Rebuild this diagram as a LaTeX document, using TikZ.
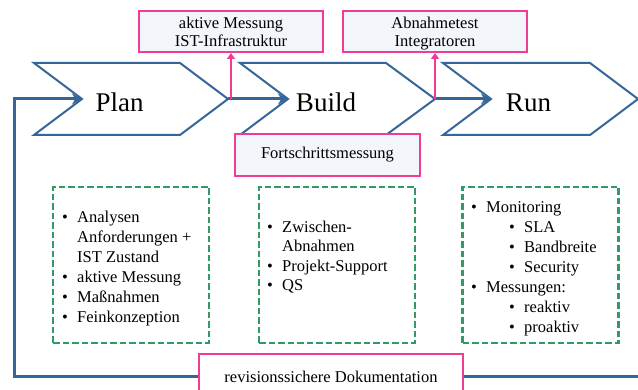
\documentclass[tikz,border=0pt]{standalone}
\usepackage{fontspec}
\setmainfont{Liberation Serif}
\usetikzlibrary{arrows.meta}
\definecolor{chevblue}{RGB}{52,102,153}
\definecolor{markpink}{RGB}{240,60,150}
\definecolor{listgreen}{RGB}{51,153,102}
\definecolor{boxfill}{RGB}{242,245,250}
\newcommand{\bul}{\makebox[15pt][l]{\textbullet}}
\tikzset{
  chevron/.style={draw=chevblue, line width=2pt, line join=miter},
  flow/.style={draw=chevblue, line width=3pt, -{Stealth[length=10pt,width=11pt]}},
  flowline/.style={draw=chevblue, line width=3pt},
  markbox/.style={draw=markpink, fill=boxfill, line width=2pt, align=center, inner sep=0pt, font=\fontsize{16.5}{18}\selectfont},
  twoline/.style={minimum width=184pt, minimum height=41pt, text height=35pt, text depth=4pt},
  markarrow/.style={draw=markpink, line width=2.5pt, -{Triangle[length=6pt,width=8pt]}},
  listbox/.style={draw=listgreen, line width=2.5pt, dash pattern=on 6.5pt off 3pt, minimum width=156pt, minimum height=156pt},
  listitem/.style={anchor=base west, inner sep=0pt, font=\fontsize{16.5}{20}\selectfont},
  phaselabel/.style={anchor=base, inner sep=0pt, font=\fontsize{27}{30}\selectfont}
}
\begin{document}
\begin{tikzpicture}[x=1pt,y=-1pt]
\useasboundingbox (0,0) rectangle (638,390);
% chevrons
\draw[chevron] (34,63) -- (180,63) -- (228,99) coordinate (plantip) -- (180,135) -- (34,135) -- (82,99) coordinate (plannotch) -- cycle;
\draw[chevron] (240,63) -- (386,63) -- (435,99) coordinate (buildtip) -- (386,135) -- (240,135) -- (288,99) coordinate (buildnotch) -- cycle;
\draw[chevron] (443,63) -- (590,63) -- (638,99) coordinate (runtip) -- (590,135) -- (443,135) -- (491,99) coordinate (runnotch) -- cycle;
\node[phaselabel] (plan) at (119.5,112) {Plan};
\node[phaselabel] (build) at (326,112) {Build};
\node[phaselabel] (run) at (528.5,112) {Run};
% boxes on top
\node[markbox, twoline] (messung) at (231,31.5) {aktive Messung\\IST-Infrastruktur};
\node[markbox, twoline] (abnahme) at (435,31.5) {Abnahmetest\\Integratoren};
\node[markbox, minimum width=185pt, minimum height=42pt] (fortschritt) at (327.5,155) {Fortschrittsmessung};
\node[markbox, fill=white, minimum width=264pt, minimum height=46pt] (doku) at (331,377) {revisionssichere Dokumentation};
% flow
\coordinate (loopcorner) at (14,99);
\coordinate (rightend) at (640,377);
\draw[flow] (plantip) -- (buildnotch);
\draw[flow] (buildtip) -- (runnotch);
\draw[flow] (doku.west) -| (loopcorner) -- (plannotch);
\draw[flowline] (doku.east) -- (rightend);
\draw[markarrow] (messung.south |- plantip) -- (messung.south);
\draw[markarrow] (abnahme.south |- buildtip) -- (abnahme.south);
% lists
\node[listbox] (planlist) at (131,265) {};
\node[listbox] (buildlist) at (337,265) {};
\node[listbox] (runlist) at (540.5,265) {};
\node[listitem] (plan1) at (62,223) {\bul Analysen};
\node[listitem] (plan2) at (77,243) {Anforderungen +};
\node[listitem] (plan3) at (77,263) {IST Zustand};
\node[listitem] (plan4) at (62,283) {\bul aktive Messung};
\node[listitem] (plan5) at (62,303) {\bul Maßnahmen};
\node[listitem] (plan6) at (62,323) {\bul Feinkonzeption};
\node[listitem] (build1) at (267,232.5) {\bul Zwischen-};
\node[listitem] (build2) at (282,252) {Abnahmen};
\node[listitem] (build3) at (267,271.5) {\bul Projekt-Support};
\node[listitem] (build4) at (267,291) {\bul QS};
\node[listitem] (run1) at (471,213) {\bul Monitoring};
\node[listitem] (run2) at (509,233) {\bul SLA};
\node[listitem] (run3) at (509,253) {\bul Bandbreite};
\node[listitem] (run4) at (509,273) {\bul Security};
\node[listitem] (run5) at (471,293) {\bul Messungen:};
\node[listitem] (run6) at (509,313) {\bul reaktiv};
\node[listitem] (run7) at (509,333) {\bul proaktiv};
\end{tikzpicture}
\end{document}
